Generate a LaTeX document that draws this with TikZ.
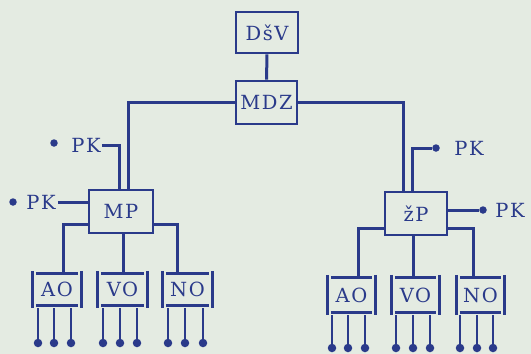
\documentclass[tikz,border=0pt]{standalone}
\usepackage{fontspec}
\setmainfont{DejaVu Serif}[LetterSpace=8]
\usetikzlibrary{calc}
\definecolor{ink}{HTML}{2A3A8A}
\definecolor{paper}{HTML}{E4EBE2}
\tikzset{
  lbl/.style={font=\fontsize{19.5}{21}\selectfont, text=ink, inner sep=0pt},
  bigbox/.style={lbl, draw=ink, line width=2.8pt},
  conn/.style={draw=ink, line width=3pt},
  leg/.style={draw=ink, line width=1.1pt},
  blob/.style={circle, fill=ink, inner sep=0pt, minimum size=8.5pt},
  pkdot/.style={circle, fill=ink, inner sep=0pt, minimum size=7.5pt},
}
\newcommand\brbox[1]{%
  \draw[ink, line width=2.8pt] ($(#1.north west)+(3,0)$) -- ($(#1.north east)+(-3,0)$);
  \draw[ink, line width=2.8pt] ($(#1.south west)+(3,0)$) -- ($(#1.south east)+(-3,0)$);
  \draw[ink, line width=3.3pt] ($(#1.north west)+(0,-3)$) -- ($(#1.south west)+(0,3)$);
  \draw[ink, line width=3.3pt] ($(#1.north east)+(0,-3)$) -- ($(#1.south east)+(0,3)$);}
\begin{document}
\begin{tikzpicture}[x=1pt,y=-1pt]
\fill[paper] (0,0) rectangle (531,354);
\useasboundingbox (0,0) rectangle (531,354);

\node[bigbox, minimum width=62pt, minimum height=41pt] (DSV) at (267,32.5) {DšV};
\node[bigbox, minimum width=61pt, minimum height=43pt] (MDZ) at (266.5,102.5) {MDZ};
\node[bigbox, minimum width=64pt, minimum height=43pt] (MP) at (121,211.5) {MP};
\node[bigbox, minimum width=62pt, minimum height=43pt] (ZP) at (416,213.5) {žP};

\node[lbl, minimum width=48pt, minimum height=31pt] (AOL) at (57,289.5) {AO};
\node[lbl, minimum width=49pt, minimum height=31pt] (VOL) at (122.5,289.5) {VO};
\node[lbl, minimum width=49pt, minimum height=31pt] (NOL) at (187.5,289.5) {NO};
\node[lbl, minimum width=47pt, minimum height=34pt] (AOR) at (351.5,295) {AO};
\node[lbl, minimum width=47pt, minimum height=34pt] (VOR) at (415.5,295) {VO};
\node[lbl, minimum width=47pt, minimum height=34pt] (NOR) at (480.5,295) {NO};
\brbox{AOL}\brbox{VOL}\brbox{NOL}\brbox{AOR}\brbox{VOR}\brbox{NOR}

\draw[conn] (DSV) -- (MDZ);
\draw[conn] (MDZ.west) -| ($(MP.north)+(7,0)$);
\draw[conn] (MDZ.east) -| ($(ZP.north)+(-13,0)$);

\node[pkdot] (pd1) at (54,143) {};
\node[lbl] (pk1) at (86,145) {PK};
\draw[conn] ($(pk1.east)+(1,0)$) -| ($(MP.north)+(-2,0)$);

\node[pkdot] (pd2) at (13,202) {};
\node[lbl] (pk2) at (41,202) {PK};
\draw[conn] ($(pk2.east)+(2,0)$) -- (pk2.east -| MP.west);

\node[pkdot] (pd3) at (436,148) {};
\node[lbl] (pk3) at (469,148) {PK};
\draw[conn] (pd3.west) -| ($(ZP.north)+(-4,0)$);

\node[pkdot] (pd4) at (483,210) {};
\node[lbl] (pk4) at (510,210) {PK};
\draw[conn] (pd4.west) -- (pd4.west -| ZP.east);

\draw[conn] ($(MP.south west)+(0,-10)$) -| ($(AOL.north)+(6,0)$);
\draw[conn] ($(MP.south east)+(0,-10)$) -| ($(NOL.north)+(-10,0)$);
\draw[conn] ($(MP.south)+(2,0)$) -- ($(VOL.north)+(0.5,0)$);
\draw[conn] ($(ZP.south west)+(0,-8)$) -| ($(AOR.north)+(6.5,0)$);
\draw[conn] ($(ZP.south east)+(0,-8)$) -| ($(NOR.north)+(-7.5,0)$);
\draw[conn] ($(ZP.south)+(-3,0)$) -- ($(VOR.north)+(-2.5,0)$);

\foreach \n/\x/\b in {l1/38/AOL, l2/54/AOL, l3/71/AOL, l4/103/VOL, l5/120/VOL, l6/137/VOL, l7/168/NOL, l8/185/NOL, l9/203/NOL}{
  \node[blob] (\n) at (\x,343) {};
  \draw[leg] (\n.north) -- ($(\n |- \b.south)+(0,3)$);
}
\foreach \n/\x/\b in {r1/332/AOR, r2/348/AOR, r3/365/AOR, r4/396/VOR, r5/413/VOR, r6/430/VOR, r7/460/NOR, r8/477/NOR, r9/493/NOR}{
  \node[blob] (\n) at (\x,348) {};
  \draw[leg] (\n.north) -- ($(\n |- \b.south)+(0,3)$);
}
\end{tikzpicture}
\end{document}
